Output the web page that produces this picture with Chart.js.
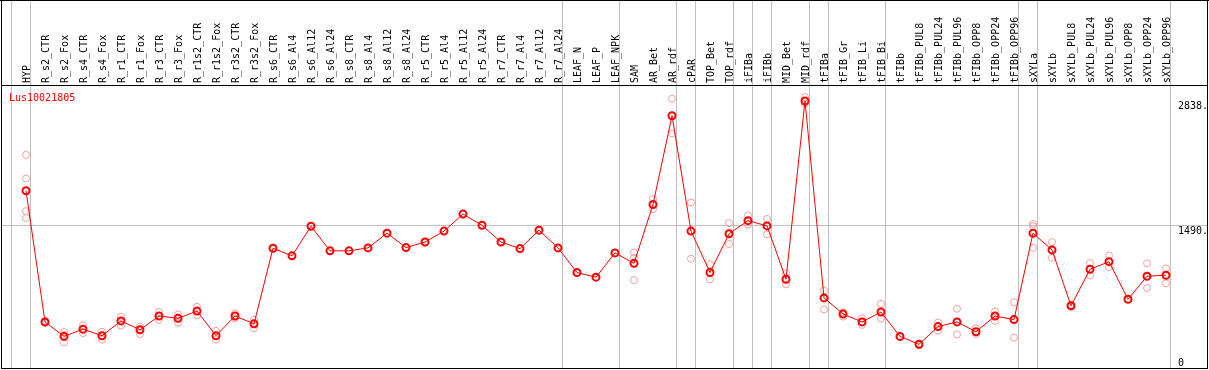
<!DOCTYPE html>
<html>
<head>
<meta charset="utf-8">
<script src="https://cdn.jsdelivr.net/npm/chart.js@4/dist/chart.umd.min.js"></script>
<style>
  html, body { margin: 0; padding: 0; background: #fff; }
  canvas { display: block; }
</style>
</head>
<body>
<canvas id="c" width="1209" height="370"></canvas>
<script>
const geneName = "Lus10021805";

const categories = [
  "HYP","R_s2_CTR","R_s2_Fox","R_s4_CTR","R_s4_Fox","R_r1_CTR","R_r1_Fox","R_r3_CTR","R_r3_Fox",
  "R_r1s2_CTR","R_r1s2_Fox","R_r3s2_CTR","R_r3s2_Fox","R_s6_CTR","R_s6_Al4","R_s6_Al12","R_s6_Al24",
  "R_s8_CTR","R_s8_Al4","R_s8_Al12","R_s8_Al24","R_r5_CTR","R_r5_Al4","R_r5_Al12","R_r5_Al24",
  "R_r7_CTR","R_r7_Al4","R_r7_Al12","R_r7_Al24","LEAF_N","LEAF_P","LEAF_NPK","SAM","AR_Bet","AR_rdf",
  "cPAR","TOP_Bet","TOP_rdf","iFIBa","iFIBb","MID_Bet","MID_rdf","tFIBa","tFIB_Gr","tFIB_Li","tFIB_Bi",
  "tFIBb","tFIBb_PUL8","tFIBb_PUL24","tFIBb_PUL96","tFIBb_OPP8","tFIBb_OPP24","tFIBb_OPP96",
  "sXYLa","sXYLb","sXYLb_PUL8","sXYLb_PUL24","sXYLb_PUL96","sXYLb_OPP8","sXYLb_OPP24","sXYLb_OPP96"
];

const means = [
  1870, 454, 298, 376, 305, 465, 369, 518, 493,
  571, 305, 518, 433, 1249, 1167, 1487, 1221,
  1221, 1253, 1412, 1256, 1316, 1434, 1618, 1497,
  1316, 1245, 1444, 1253, 987, 937, 1199, 1086, 1721, 2679,
  1434, 987, 1405, 1547, 1490, 915, 2838, 713, 540, 454, 561,
  298, 212, 404, 454, 348, 518, 479,
  1412, 1231, 628, 1022, 1104, 699, 947, 958
];

const replicates = [
  [2256, 2001, 1650, 1575], [445, 462], [344, 234, 315], [418, 333], [348, 263], [511, 415], [404, 323], [561, 476], [535, 447],
  [617, 525], [358, 263], [546, 493], [476, 386], [], [], [], [],
  [], [], [], [], [], [], [], [],
  [], [], [], [], [], [], [], [1203, 1146, 905], [1781, 1671], [2863, 2487],
  [1742, 1135], [1075, 912], [1519, 1295], [1604, 1504], [1565, 1398], [979, 859], [2881, 2810], [795, 589], [557, 511], [493, 422], [649, 490],
  [], [220, 202], [447, 362], [596, 319], [386, 323], [567, 465], [667, 284],
  [1511, 1487, 1253], [1316, 1146], [640, 618], [1089, 955], [1171, 1046], [], [1086, 820], [1032, 870]
];

// indices of categories after which a group separator is drawn (-1 = before first)
const groupSeparators = [-1, 0, 28, 31, 34, 35, 37, 38, 39, 41, 42, 45, 52, 53, 60];

const yMin = 0;
const yMax = 2838;
const yGridValues = [1490];
const yTickValues = [0, 1490, 2838];
const yTickLabels = ["0", "1490.", "2838."];

const repPoints = [];
replicates.forEach((arr, i) => arr.forEach(v => repPoints.push({ x: categories[i], y: v })));

const FONT = '10px "DejaVu Sans Mono", "Liberation Mono", monospace';

const decor = {
  id: 'decor',
  beforeDraw(chart) {
    const ctx = chart.ctx;
    ctx.save();
    ctx.fillStyle = '#ffffff';
    ctx.fillRect(0, 0, chart.width, chart.height);
    ctx.restore();
  },
  beforeDatasetsDraw(chart) {
    const ctx = chart.ctx;
    const xs = chart.scales.x, ys = chart.scales.y;
    const x0 = xs.getPixelForValue(0);
    const step = xs.getPixelForValue(1) - x0;
    ctx.save();
    ctx.fillStyle = '#c0c0c0';
    groupSeparators.forEach(i => {
      const px = Math.floor(x0 + i * step + 4);
      ctx.fillRect(px, 0, 1, 369);
    });
    yGridValues.forEach(v => {
      const py = Math.floor(ys.getPixelForValue(v));
      ctx.fillRect(1, py, 1207, 1);
    });
    ctx.restore();
  },
  afterDatasetsDraw(chart) {
    const ctx = chart.ctx;
    const xs = chart.scales.x, ys = chart.scales.y;
    const x0 = xs.getPixelForValue(0);
    const step = xs.getPixelForValue(1) - x0;
    ctx.save();
    // frame
    ctx.fillStyle = '#000000';
    ctx.fillRect(0, 0, 1209, 1);
    ctx.fillRect(1, 85, 1207, 1);
    ctx.fillRect(1, 368, 1207, 1);
    ctx.fillRect(1, 0, 1, 369);
    ctx.fillRect(1207, 0, 1, 369);
    // category labels (rotated)
    ctx.font = FONT;
    ctx.fillStyle = '#000000';
    ctx.textAlign = 'left';
    ctx.textBaseline = 'alphabetic';
    categories.forEach((c, i) => {
      const px = x0 + i * step + 4;
      ctx.save();
      ctx.translate(px, 83);
      ctx.rotate(-Math.PI / 2);
      ctx.fillText(c, 0, 0);
      ctx.restore();
    });
    // y tick labels
    yTickValues.forEach((v, k) => {
      const py = ys.getPixelForValue(v);
      ctx.fillText(yTickLabels[k], 1178, Math.min(py + 8, 366));
    });
    // gene name
    ctx.fillStyle = '#ff0000';
    ctx.fillText(geneName, 9, 101);
    ctx.restore();
  }
};

new Chart(document.getElementById('c'), {
  type: 'line',
  data: {
    labels: categories,
    datasets: [
      {
        label: 'mean',
        data: means,
        borderColor: '#ff0000',
        borderWidth: 1,
        backgroundColor: 'rgba(0,0,0,0)',
        pointRadius: 3.5,
        pointBorderWidth: 2,
        pointBorderColor: '#ff0000',
        pointBackgroundColor: 'rgba(0,0,0,0)',
        tension: 0,
        clip: false,
        order: 0
      },
      {
        label: 'replicates',
        data: repPoints,
        showLine: false,
        pointRadius: 3.5,
        pointBorderWidth: 1,
        pointBorderColor: '#f0a0a0',
        pointBackgroundColor: 'rgba(0,0,0,0)',
        clip: false,
        order: 1
      }
    ]
  },
  options: {
    responsive: false,
    devicePixelRatio: 1,
    animation: false,
    layout: { padding: { left: 26, right: 43, top: 101, bottom: 2 } },
    scales: {
      x: { type: 'category', display: false, offset: false },
      y: { type: 'linear', display: false, min: yMin, max: yMax }
    },
    plugins: {
      legend: { display: false },
      tooltip: { enabled: false },
      title: { display: false }
    }
  },
  plugins: [decor]
});
</script>
</body>
</html>
